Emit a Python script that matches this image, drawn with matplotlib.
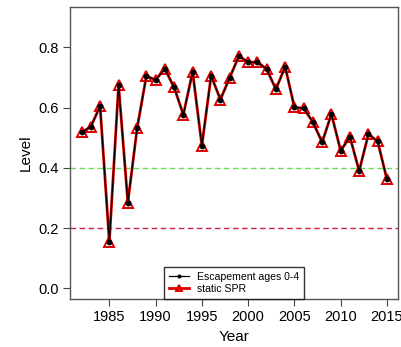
import numpy as np
import matplotlib
import matplotlib.pyplot as plt

matplotlib.use("agg")

years = np.arange(1982, 2016)
escapement = [0.518, 0.537, 0.605, 0.155, 0.675, 0.285, 0.531, 0.705, 0.692,
              0.729, 0.667, 0.577, 0.719, 0.474, 0.706, 0.627, 0.699, 0.771,
              0.751, 0.751, 0.728, 0.661, 0.736, 0.601, 0.598, 0.552, 0.485,
              0.579, 0.457, 0.503, 0.390, 0.512, 0.488, 0.362]
static_spr = list(escapement)

ref_upper = 0.4
ref_lower = 0.2
x_ticks = [1985, 1990, 1995, 2000, 2005, 2010, 2015]
y_ticks = [0.0, 0.2, 0.4, 0.6, 0.8]

plt.rcParams["font.family"] = ["Liberation Sans", "DejaVu Sans"]

fig = plt.figure(figsize=(4.01, 3.47), dpi=100)
ax = fig.add_axes([0.1746, 0.1383, 0.818, 0.8415])

ax.axhline(ref_upper, color="#66dd55", lw=1.0, ls=(0, (4, 2.5)), zorder=1)
ax.axhline(ref_lower, color="#cc2244", lw=1.0, ls=(0, (4, 2.5)), zorder=1)

# red series underneath, black drawn over it
ax.plot(years, static_spr, color="#dd0000", lw=2.0, marker="^", ms=7,
        mfc="none", mec="#dd0000", mew=1.4, label="static SPR", zorder=2)
ax.plot(years, escapement, color="black", lw=0.9, marker="o", ms=3.2,
        mfc="black", mec="black", label="Escapement ages 0-4", zorder=3)

ax.set_xlim(1980.75, 2016.2)
ax.set_ylim(-0.035, 0.934)
ax.set_xticks(x_ticks)
ax.set_yticks(y_ticks)
ax.set_yticklabels([f"{v:.1f}" for v in y_ticks])
ax.tick_params(labelsize=10.5, length=5, color="#444444", pad=3)
for s in ax.spines.values():
    s.set_color("#555555")
    s.set_linewidth(1.0)

ax.set_xlabel("Year", fontsize=11, labelpad=4)
ax.set_ylabel("Level", fontsize=11, labelpad=4)

handles, labels = ax.get_legend_handles_labels()
leg = ax.legend(handles[::-1], labels[::-1], loc="lower left",
                bbox_to_anchor=(0.2866, 0.0), fontsize=7.6, frameon=True,
                fancybox=False, edgecolor="black", borderaxespad=0,
                handlelength=1.9, handletextpad=0.7, borderpad=0.5,
                labelspacing=0.15, markerscale=0.6)
leg.get_frame().set_linewidth(1.0)

fig.savefig("out.png", dpi=100)
